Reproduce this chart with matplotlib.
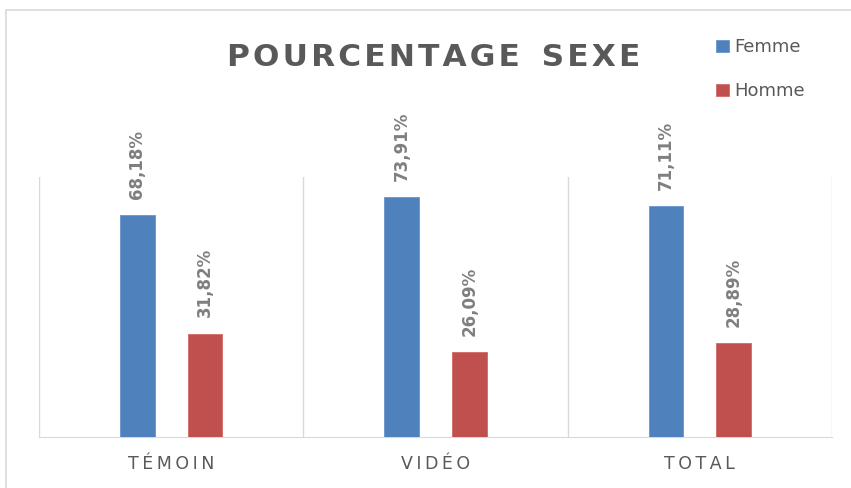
"""Pourcentage par sexe: barres groupées Femme / Homme par groupe."""

import matplotlib
matplotlib.use("Agg")
import matplotlib.pyplot as plt
import numpy as np
from matplotlib.patches import Rectangle

categories = ["TÉMOIN", "VIDÉO", "TOTAL"]
series = ["Femme", "Homme"]
femme = [0.6818, 0.7391, 0.7111]
homme = [0.3182, 0.2609, 0.2889]

BLUE = "#4F81BD"
RED = "#C0504D"
GRID = "#D9D9D9"
TXT = "#595959"


def spaced(s, sep="\u200a"):
    # imitation de l'espacement des lettres d'Excel
    return sep.join(s)


fig = plt.figure(figsize=(8.51, 4.88), dpi=100)
ax = fig.add_axes([39 / 851, 1 - 437 / 488, (832 - 39) / 851, (437 - 177) / 488])

# cadre du graphique
fig.patches.append(Rectangle((6 / 851, -0.1), 1.2, 1 - 10 / 488 + 0.1,
                             transform=fig.transFigure, fill=False,
                             edgecolor="#D9D9D9", linewidth=1.2))

x = np.arange(len(categories))
off, w = 0.128, 0.132
b1 = ax.bar(x - off, femme, w, color=BLUE, edgecolor="#6A95CC", linewidth=0.6,
            label=series[0], zorder=3)
b2 = ax.bar(x + off, homme, w, color=RED, edgecolor="#D06A68", linewidth=0.6,
            label=series[1], zorder=3)

for bars, vals in ((b1, femme), (b2, homme)):
    for rect, v in zip(bars, vals):
        ax.text(rect.get_x() + rect.get_width() / 2, v + 0.05,
                f"{v * 100:.2f}%".replace(".", ","), rotation=90,
                ha="center", va="bottom", fontsize=12, color="#7F7F7F",
                fontweight="semibold")

ax.set_xlim(-0.5, len(categories) - 0.5)
ax.set_ylim(0, 0.8)
for gx in np.arange(-0.5, len(categories), 1.0):
    ax.axvline(gx, color=GRID, linewidth=1, zorder=1)
for side in ("top", "left", "right"):
    ax.spines[side].set_visible(False)
ax.spines["bottom"].set_color(GRID)
ax.set_yticks([])
ax.set_xticks(x)
ax.set_xticklabels([spaced(c, "\u2009") for c in categories], fontsize=12.5,
                   color=TXT)
ax.tick_params(axis="x", length=0, pad=13)

fig.text(434 / 851, 1 - 57 / 488, spaced("POURCENTAGE") + "  " + spaced("SEXE"),
         ha="center", va="center", fontsize=22.5, fontweight="bold", color=TXT)

fig.legend(handles=[b1, b2], labels=series, loc="upper left",
           bbox_to_anchor=(700 / 851, 1 - 22 / 488), frameon=False,
           fontsize=13, labelcolor=TXT, handlelength=0.7, handleheight=0.7,
           handletextpad=0.3, labelspacing=1.45)

fig.savefig("out.png", dpi=100)
